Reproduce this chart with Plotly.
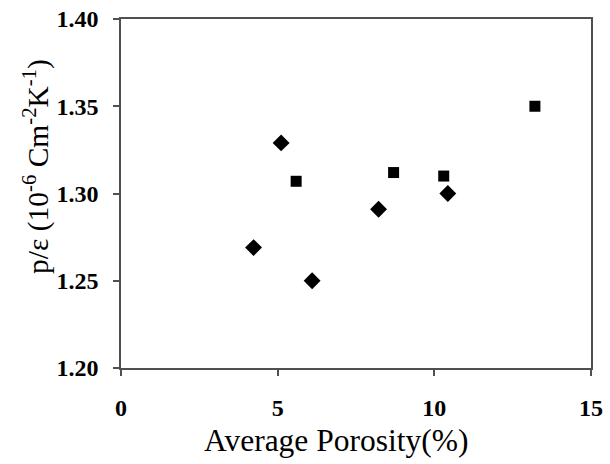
import plotly.graph_objects as go

diamond_x = [4.23, 5.11, 6.10, 8.22, 10.43]
diamond_y = [1.269, 1.329, 1.250, 1.291, 1.300]
square_x = [5.59, 8.70, 10.30, 13.21]
square_y = [1.307, 1.312, 1.310, 1.350]

x_ticks = [0, 5, 10, 15]
y_ticks = [1.20, 1.25, 1.30, 1.35, 1.40]

x_title = "Average Porosity(%)"
y_title = "p/ε (10<sup>-6</sup> Cm<sup>-2</sup>K<sup>-1</sup>)"

fig = go.Figure()
fig.add_trace(go.Scatter(x=diamond_x, y=diamond_y, mode="markers",
                         marker=dict(symbol="diamond", size=13, color="black")))
fig.add_trace(go.Scatter(x=square_x, y=square_y, mode="markers",
                         marker=dict(symbol="square", size=11, color="black")))

axis_common = dict(showline=True, linecolor="#505050", linewidth=1.5, mirror=True,
                   ticks="outside", ticklen=6, tickcolor="#505050", tickwidth=1.5,
                   showgrid=False, zeroline=False, automargin=False,
                   ticklabeloverflow="allow",
                   tickfont=dict(family="Liberation Serif", size=24, color="black"))

fig.update_layout(
    width=610, height=464,
    margin=dict(l=121, r=19, t=19, b=96),
    paper_bgcolor="white", plot_bgcolor="white",
    showlegend=False,
    xaxis=dict(range=[0, 15], tickvals=x_ticks, ticktext=[f"<b>{v}</b>" for v in x_ticks],
               ticklabelstandoff=11, **axis_common),
    yaxis=dict(range=[1.20, 1.40], tickvals=y_ticks, ticktext=[f"<b>{v:.2f}</b>" for v in y_ticks],
               ticklabelstandoff=10, **axis_common),
    annotations=[
        dict(text=x_title, xref="paper", yref="paper", x=0.4585, y=-0.209,
             xanchor="center", yanchor="middle", showarrow=False,
             font=dict(family="Liberation Serif", size=31.5, color="black")),
        dict(text=y_title, xref="paper", yref="paper", x=-0.1787, y=0.576,
             xanchor="center", yanchor="middle", showarrow=False, textangle=-90,
             font=dict(family="Liberation Serif", size=29.5, color="black")),
    ],
)

fig.write_html("out.html", post_script="document.body.style.margin='0';",
               config={"displayModeBar": False})
